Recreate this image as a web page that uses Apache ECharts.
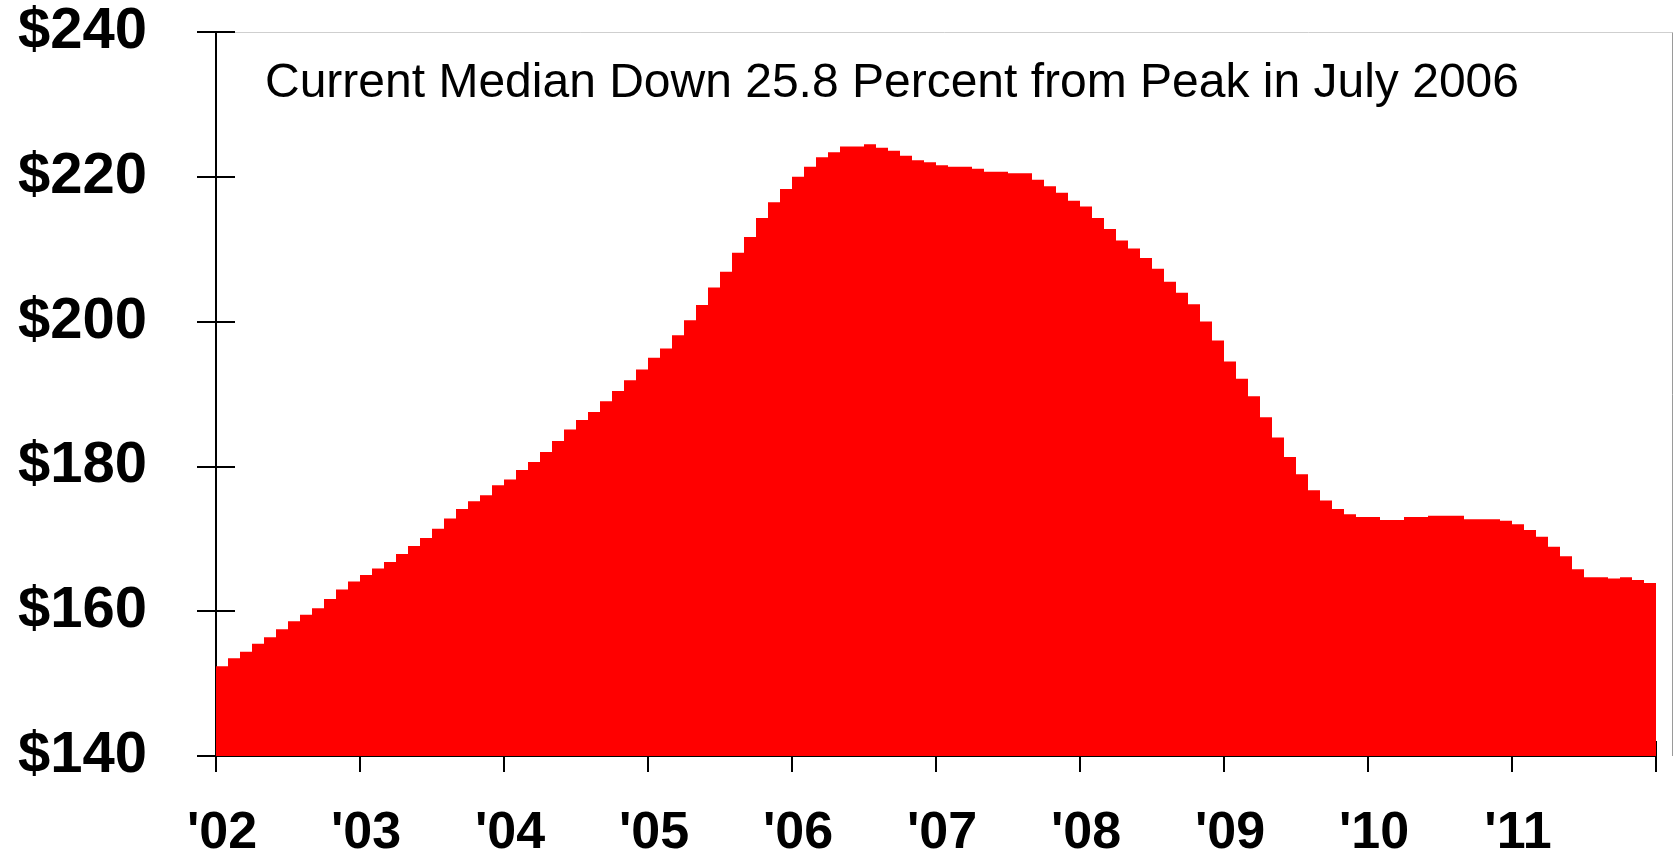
<!DOCTYPE html>
<html>
<head>
<meta charset="utf-8">
<script src="https://cdn.jsdelivr.net/npm/echarts@6/dist/echarts.min.js"></script>
<style>
html,body{margin:0;padding:0;background:#fff;}
#chart{width:1677px;height:853px;}
</style>
</head>
<body>
<div id="chart"></div>
<script>
const years = ['2002','2003','2004','2005','2006','2007','2008','2009','2010','2011'];
const monthNames = ['Jan','Feb','Mar','Apr','May','Jun','Jul','Aug','Sep','Oct','Nov','Dec'];
const xTickLabels = ["'02","'03","'04","'05","'06","'07","'08","'09","'10","'11",""];
const yTickLabels = ['$140','$160','$180','$200','$220','$240'];
const titleText = 'Current Median Down 25.8 Percent from Peak in July 2006';

const v2002 = [152.4,153.5,154.4,155.5,156.4,157.5,158.6,159.5,160.4,161.7,163.0,164.1];
const v2003 = [165.0,165.9,166.8,167.9,169.0,170.1,171.4,172.8,174.1,175.2,176.0,177.4];
const v2004 = [178.2,179.5,180.6,182.0,183.5,185.1,186.4,187.5,189.0,190.4,191.9,193.4];
const v2005 = [195.0,196.3,198.1,200.2,202.3,204.7,206.9,209.5,211.7,214.3,216.5,218.3];
const v2006 = [220.0,221.4,222.7,223.4,224.2,224.2,224.5,224.0,223.6,222.9,222.3,222.0];
const v2007 = [221.6,221.4,221.4,221.1,220.7,220.7,220.5,220.5,219.6,218.7,217.8,216.7];
const v2008 = [215.9,214.3,212.8,211.2,210.1,208.8,207.3,205.5,204.0,202.4,200.0,197.4];
const v2009 = [194.5,192.1,189.7,186.8,184.0,181.3,178.9,176.7,175.3,174.1,173.4,173.0];
const v2010 = [173.0,172.6,172.6,173.0,173.0,173.2,173.2,173.2,172.7,172.7,172.7,172.5];
const v2011 = [172.0,171.2,170.3,168.9,167.6,165.8,164.7,164.7,164.5,164.7,164.3,163.9];

const values = [].concat(v2002,v2003,v2004,v2005,v2006,v2007,v2008,v2009,v2010,v2011);
const categories = [];
years.forEach(y => monthNames.forEach(m => categories.push(m + ' ' + y)));

const FONT = '"Liberation Sans", Arial, Helvetica, sans-serif';
const grid = {left: 216, right: 21, top: 32, bottom: 97, containLabel: false, outerBoundsMode: 'none'};

const chart = echarts.init(document.getElementById('chart'), null, {renderer: 'canvas'});
const axisLineStyle = {color: '#000', width: 2};
chart.setOption({
  animation: false,
  backgroundColor: '#fff',
  grid: grid,
  graphic: [
    {type: 'text', left: 265, top: 60,
     style: {text: titleText, font: '48px ' + FONT, fill: '#000'}},
    {type: 'line', silent: true, z: -1,
     shape: {x1: 216, y1: 32.5, x2: 1672.5, y2: 32.5},
     style: {stroke: '#cfcfcf', lineWidth: 1}},
    {type: 'line', silent: true, z: -1,
     shape: {x1: 1672.5, y1: 32.5, x2: 1672.5, y2: 756},
     style: {stroke: '#9a9a9a', lineWidth: 1}}
  ],
  xAxis: [
    {type: 'category', data: categories, boundaryGap: true,
     axisLine: {show: true, lineStyle: axisLineStyle},
     axisTick: {show: false}, axisLabel: {show: false}, splitLine: {show: false}},
    {type: 'value', min: 0, max: 120, interval: 12, position: 'bottom',
     axisLine: {show: false}, splitLine: {show: false},
     axisTick: {show: true, length: 16, lineStyle: axisLineStyle},
     axisLabel: {show: true, margin: 52, fontFamily: FONT, fontWeight: 'bold', fontSize: 52, lineHeight: 52, color: '#000',
       padding: [0, 0, 0, 12],
       formatter: v => xTickLabels[Math.round(v / 12)]}},
    {type: 'value', min: 0, max: 120, interval: 12, position: 'bottom',
     axisLine: {show: false}, splitLine: {show: false},
     axisTick: {show: true, inside: true, length: 15, lineStyle: axisLineStyle},
     axisLabel: {show: false}}
  ],
  yAxis: [
    {type: 'value', min: 140, max: 240, interval: 20, position: 'left',
     axisLine: {show: true, lineStyle: axisLineStyle},
     axisTick: {show: true, length: 19, lineStyle: axisLineStyle},
     splitLine: {show: false},
     axisLabel: {show: true, margin: 69, fontFamily: FONT, fontWeight: 'bold', fontSize: 58, color: '#000',
       formatter: v => yTickLabels[Math.round((v - 140) / 20)]}},
    {type: 'value', min: 140, max: 240, interval: 20, position: 'left',
     axisLine: {show: false}, splitLine: {show: false},
     axisTick: {show: true, inside: true, length: 19, lineStyle: axisLineStyle},
     axisLabel: {show: false}}
  ],
  series: [{
    type: 'bar', xAxisIndex: 0, yAxisIndex: 0, data: values,
    barCategoryGap: '0%', barGap: '0%',
    itemStyle: {color: '#FF0000'},
    silent: true
  }]
});
</script>
</body>
</html>
